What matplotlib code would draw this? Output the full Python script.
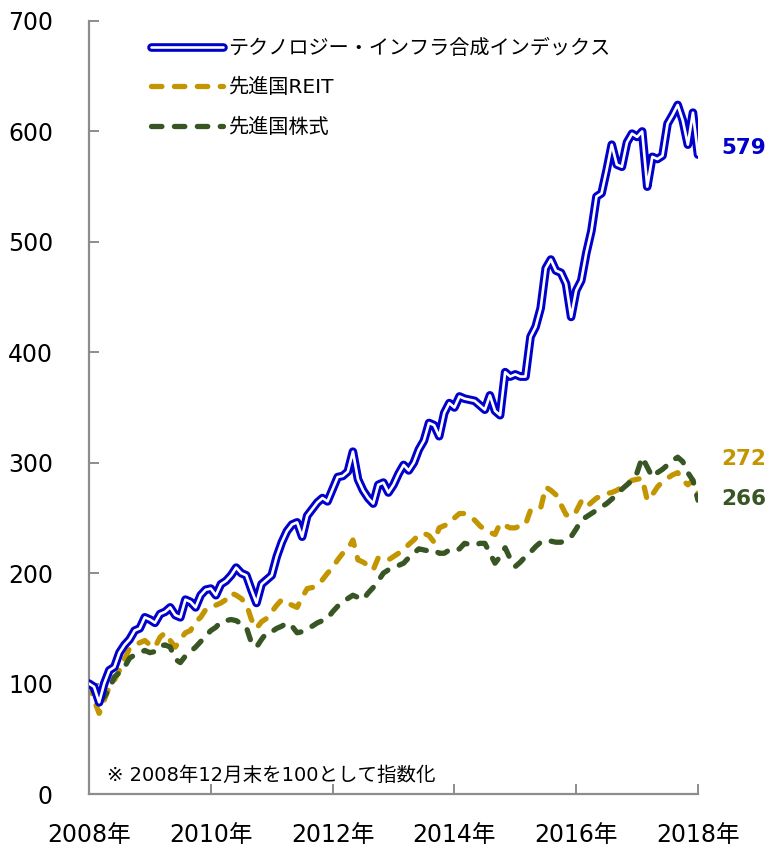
import matplotlib
matplotlib.use("Agg")
import matplotlib.pyplot as plt
import matplotlib.patheffects as pe

plt.rcParams['font.family'] = ['DejaVu Sans', 'Noto Sans CJK JP']
plt.rcParams['lines.scale_dashes'] = False

# months since Dec 2008 (0 .. 120)
months = list(range(121))

tech_infra = [100, 97, 83, 100, 112, 115, 128, 135, 140, 148, 150, 160, 158, 155, 163, 165,
              169, 162, 160, 176, 174, 169, 180, 185, 186, 180, 190, 193, 198, 205, 200, 198,
              185, 173, 190, 194, 198, 215, 228, 238, 244, 246, 233, 252, 258, 264, 268, 265,
              276, 287, 288, 292, 310, 285, 275, 268, 263, 280, 282, 273, 280, 290, 298, 293,
              300, 312, 320, 336, 334, 324, 345, 354, 350, 360, 358, 357, 356, 352, 348, 361,
              347, 343, 382, 378, 380, 378, 378, 414, 423, 440, 476, 484, 474, 472, 462, 432,
              456, 465, 490, 510, 541, 544, 565, 588, 570, 568, 590, 598, 595, 600, 550, 577,
              575, 578, 607, 615, 624, 610, 588, 617, 579]

reit = [100, 85, 73, 85, 97, 103, 112, 122, 132, 135, 137, 139, 135, 133, 142, 146,
        139, 133, 140, 146, 148, 156, 160, 167, 168, 171, 173, 176, 182, 180, 177, 172,
        158, 150, 156, 159, 165, 171, 176, 173, 171, 169, 178, 186, 187, 189, 194, 200,
        205, 212, 218, 222, 230, 212, 210, 207, 203, 214, 213, 212, 215, 218, 221, 226,
        230, 235, 236, 234, 228, 241, 243, 245, 250, 254, 254, 251, 248, 243, 239, 237,
        235, 245, 243, 241, 241, 243, 244, 257, 258, 259, 278, 275, 271, 262, 253, 251,
        256, 265, 260, 264, 268, 270, 272, 273, 275, 278, 281, 284, 285, 286, 266, 271,
        278, 283, 286, 289, 291, 284, 280, 284, 272]

equity = [100, 92, 83, 88, 95, 106, 110, 115, 123, 126, 128, 130, 128, 129, 134, 135,
          133, 122, 119, 125, 129, 133, 138, 143, 148, 151, 156, 157, 158, 157, 154, 151,
          137, 133, 140, 146, 147, 150, 152, 155, 152, 146, 147, 150, 152, 155, 157, 159,
          165, 170, 174, 177, 180, 178, 176, 182, 187, 193, 200, 203, 205, 207, 209, 214,
          218, 222, 221, 220, 221, 218, 218, 221, 220, 222, 227, 226, 225, 227, 227, 218,
          209, 215, 223, 213, 206, 210, 215, 219, 224, 228, 230, 229, 228, 228, 230, 233,
          240, 248, 251, 254, 257, 260, 263, 267, 271, 276, 280, 284, 291, 305, 296, 287,
          291, 294, 298, 302, 305, 301, 291, 284, 266]

series_names = ['テクノロジー・インフラ合成インデックス', '先進国REIT', '先進国株式']
x_tick_pos = [0, 24, 48, 72, 96, 120]
x_tick_labels = ['2008年', '2010年', '2012年', '2014年', '2016年', '2018年']
y_ticks = [0, 100, 200, 300, 400, 500, 600, 700]
note = '※ 2008年12月末を100として指数化'

BLUE = '#0000CC'
GOLD = '#C39500'
GREEN = '#375623'

fig = plt.figure(figsize=(7.69, 8.49), dpi=100)
ax = fig.add_axes([89/769, 55/849, (698-89)/769, (794-21)/849])

ax.plot(months, reit, color=GOLD, lw=3.8, dashes=(7.5, 9.0),
        dash_capstyle='round', solid_capstyle='round', label=series_names[1], zorder=2)
ax.plot(months, equity, color=GREEN, lw=3.8, dashes=(7.5, 9.0),
        dash_capstyle='round', solid_capstyle='round', label=series_names[2], zorder=2)
blue_line, = ax.plot(months, tech_infra, color='white', lw=1.9, solid_joinstyle='round',
                     solid_capstyle='round',
                     path_effects=[pe.Stroke(linewidth=6.2, foreground=BLUE), pe.Normal()],
                     label=series_names[0], zorder=3)

ax.set_xlim(0, 120)
ax.set_ylim(0, 700)
ax.set_xticks(x_tick_pos)
ax.set_xticklabels(x_tick_labels)
ax.set_yticks(y_ticks)

for s in ['top', 'right']:
    ax.spines[s].set_visible(False)
for s in ['left', 'bottom']:
    ax.spines[s].set_color('#8C8C8C')
    ax.spines[s].set_linewidth(1.6)
ax.tick_params(axis='both', direction='in', length=7, width=1.4, color='#8C8C8C',
               labelsize=17, labelcolor='black')
ax.tick_params(axis='y', pad=26)
ax.tick_params(axis='x', pad=21)

handles, labels = ax.get_legend_handles_labels()
order = [2, 0, 1]
leg = ax.legend([handles[i] for i in order], [labels[i] for i in order],
                loc='upper left', bbox_to_anchor=(0.072, 1.0), frameon=False,
                fontsize=14.5, handlelength=3.6, handletextpad=0.25, labelspacing=1.0)

ends = [(tech_infra[-1], BLUE, 5), (reit[-1], GOLD, 25), (equity[-1], GREEN, 1)]
for val, col, dy in ends:
    ax.annotate(str(val), xy=(120, val), xytext=(17, dy), textcoords='offset points',
                ha='left', va='center', fontsize=15.5, fontweight='bold', color=col,
                annotation_clip=False)

ax.text(0.03, 0.012, note, transform=ax.transAxes, fontsize=14, ha='left', va='bottom')

fig.savefig('out.png', dpi=100)
